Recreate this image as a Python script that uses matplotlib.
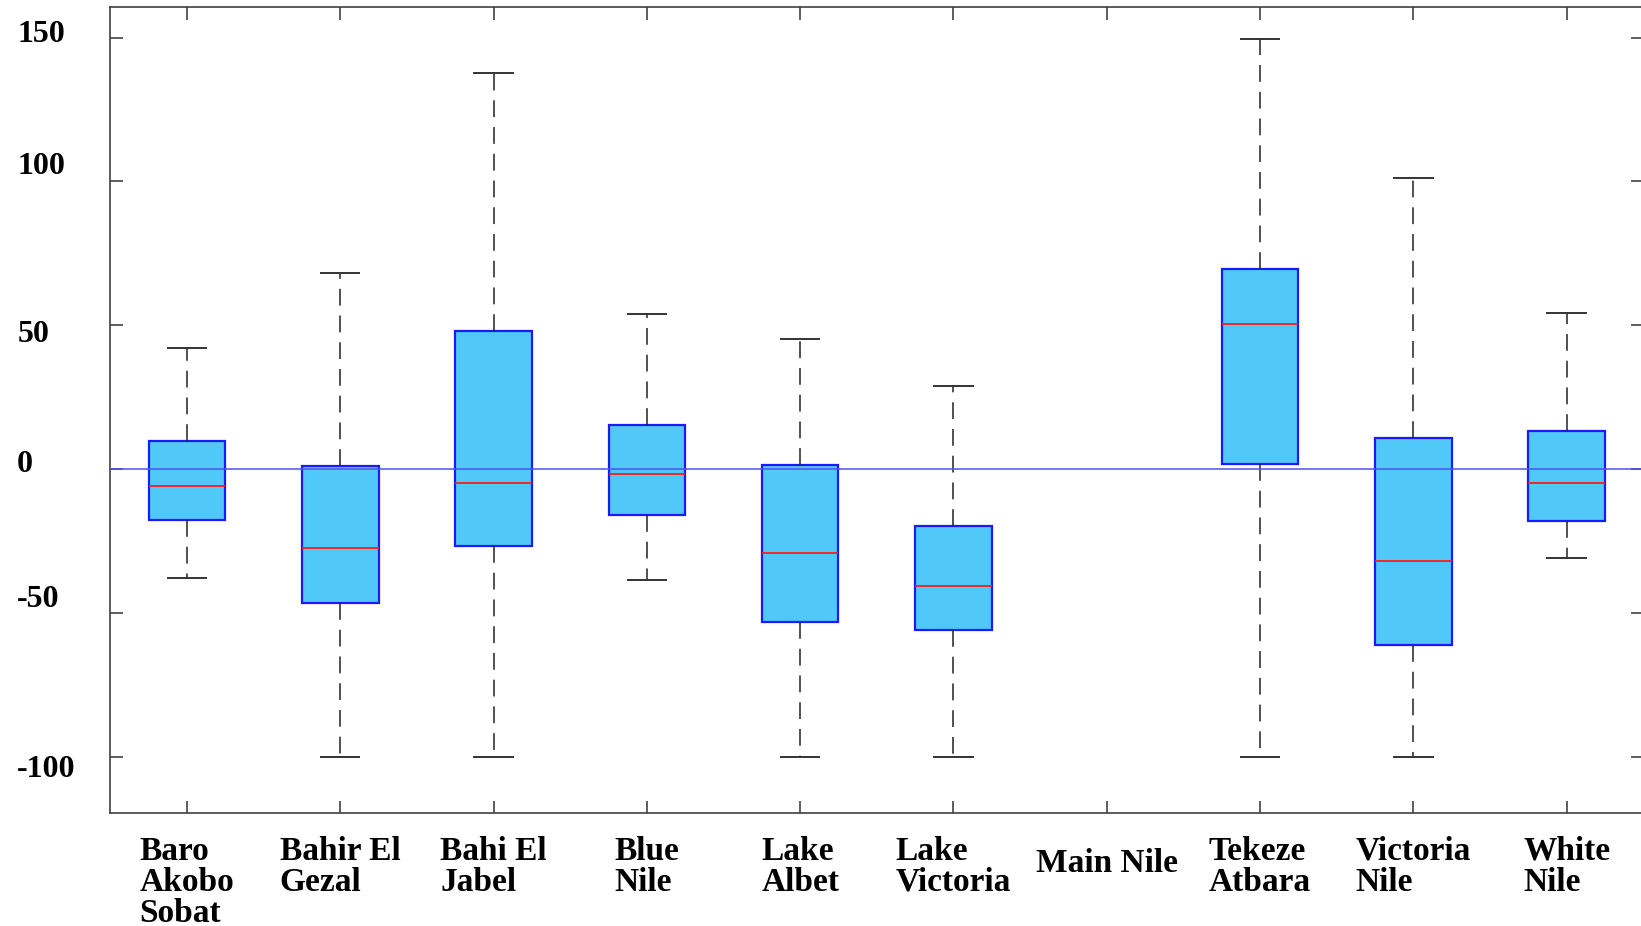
import matplotlib
matplotlib.use("Agg")
import matplotlib.pyplot as plt
import matplotlib.transforms as mtransforms

# basins along the x axis (Main Nile has no box)
basins = ["Baro\nAkobo\nSobat", "Bahir El\nGezal", "Bahi El\nJabel", "Blue\nNile",
          "Lake\nAlbet", "Lake\nVictoria", "Main Nile", "Tekeze\nAtbara",
          "Victoria\nNile", "White\nNile"]

# box statistics (one entry per basin with data)
box_pos = [1, 2, 3, 4, 5, 6, 8, 9, 10]
whislo = [-37.8, -100, -100, -38.5, -100, -100, -100, -100, -30.8]
q1 = [-17.6, -46.6, -26.9, -15.9, -53.1, -55.9, 1.7, -61.1, -18.1]
med = [-5.9, -27.5, -4.9, -1.7, -29.2, -40.8, 50.4, -32.1, -4.8]
q3 = [9.7, 1.0, 48.0, 15.4, 1.5, -19.9, 69.4, 10.8, 13.1]
whishi = [42.1, 68.3, 137.8, 53.8, 45.1, 28.8, 149.4, 101.3, 54.2]

yticks = [-100, -50, 0, 50, 100, 150]
# the y labels in the original sit a little off their ticks (points, + is up)
label_dy = [-6.5, 12, 5.5, -4.3, 13.5, 5]

stats = []
for i in range(len(box_pos)):
    stats.append({"whislo": whislo[i], "q1": q1[i], "med": med[i],
                  "q3": q3[i], "whishi": whishi[i], "fliers": []})

fig = plt.figure(figsize=(16.41, 9.26), dpi=100)
ax = fig.add_axes([0.0672, 0.1217, 0.9342, 0.8704])

ax.bxp(stats, positions=box_pos, widths=0.5, patch_artist=True, showfliers=False,
       boxprops=dict(facecolor="#50c9f8", edgecolor="#1a1aff", linewidth=1.6),
       medianprops=dict(color="#ff1a1a", linewidth=1.3),
       whiskerprops=dict(color="#222222", linewidth=1.1, linestyle=(0, (11, 6.5))),
       capprops=dict(color="#333333", linewidth=1.4))

ax.axhline(0, color="#5050f0", linewidth=1.1, zorder=5)

ax.set_xlim(0.5, 10.5)
ax.set_ylim(-119.7, 160.5)
ax.set_xticks(range(1, len(basins) + 1))
ax.set_xticklabels(basins, fontfamily="Liberation Serif", fontweight="bold",
                   fontsize=24, linespacing=1.0, ha="center", va="top",
                   multialignment="left")
ax.set_yticks(yticks)
ax.set_yticklabels([str(v) for v in yticks], fontfamily="Liberation Serif",
                   fontweight="bold", fontsize=23, ha="left")

ax.tick_params(axis="both", direction="in", length=9, width=1.1, color="#333333",
               top=True, right=True)
ax.tick_params(axis="x", pad=16)
ax.tick_params(axis="y", pad=67)
for s in ax.spines.values():
    s.set_color("#404040")
    s.set_linewidth(1.2)

# single-line label sits lower in the original
ax.get_xticklabels()[6].set_y(-0.016)
for lab, dy in zip(ax.get_yticklabels(), label_dy):
    lab.set_transform(mtransforms.offset_copy(lab.get_transform(), fig=fig, x=0, y=dy,
                                              units="points"))

fig.savefig("out.png", dpi=100)
